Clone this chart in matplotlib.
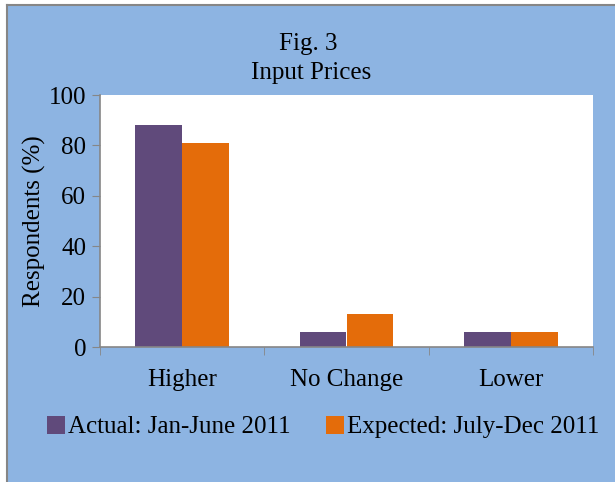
import matplotlib
matplotlib.use("Agg")
import matplotlib.pyplot as plt
import numpy as np
from matplotlib.patches import Rectangle
from matplotlib.lines import Line2D

categories = ["Higher", "No Change", "Lower"]
actual = [88, 6, 6]
expected = [81, 13, 6]
series_names = ["Actual: Jan-June 2011", "Expected: July-Dec 2011"]

plt.rcParams['font.family'] = ['Liberation Serif', 'DejaVu Serif']

bg = "#8DB4E2"
purple = "#604A7B"
orange = "#E46C0A"
grey = "#868686"
fs = 18

fig = plt.figure(figsize=(6.15, 4.82), dpi=100, facecolor="white")

# blue chart area with grey frame on left/top
fig.patches.append(Rectangle((7 / 615, 0), 1, 1 - 5 / 482, transform=fig.transFigure,
                             facecolor=bg, edgecolor="none", zorder=-5))
fig.lines.append(Line2D([7 / 615, 7 / 615], [0, 1 - 5 / 482], transform=fig.transFigure,
                        color=grey, lw=1.5, zorder=-4))
fig.lines.append(Line2D([7 / 615, 1], [1 - 5 / 482, 1 - 5 / 482], transform=fig.transFigure,
                        color=grey, lw=1.5, zorder=-4))

ax = fig.add_axes([100 / 615, 1 - 347 / 482, 493 / 615, 252 / 482])
ax.set_facecolor("white")

x = np.arange(len(categories))
w = 0.286
ax.bar(x - w / 2, actual, w, color=purple, label=series_names[0], zorder=2)
ax.bar(x + w / 2, expected, w, color=orange, label=series_names[1], zorder=2)

ax.set_xlim(-0.5, 2.5)
ax.set_ylim(0, 100)
ax.set_yticks(range(0, 101, 20))
ax.set_xticks(x)
ax.set_xticklabels(categories, fontsize=fs)
ax.set_xticks(np.arange(-0.5, 2.6, 1), minor=True)
ax.tick_params(axis="x", which="major", length=0, pad=16)
ax.tick_params(axis="x", which="minor", length=6, color=grey, direction="out")
ax.tick_params(axis="y", labelsize=fs, length=6, color=grey, direction="out", pad=4)

for s in ["top", "right"]:
    ax.spines[s].set_visible(False)
for s in ["left", "bottom"]:
    ax.spines[s].set_color(grey)
    ax.spines[s].set_linewidth(1.2)

ax.set_ylabel("Respondents (%)", fontsize=fs, labelpad=2)

fig.text(308 / 615, 1 - 44 / 482, "Fig. 3", ha="center", va="center", fontsize=fs)
fig.text(311 / 615, 1 - 73 / 482, "Input Prices", ha="center", va="center", fontsize=fs)

fig.legend(loc="center", bbox_to_anchor=(323 / 615, 1 - 427 / 482), ncol=2, frameon=False,
           fontsize=fs, handlelength=0.75, handleheight=0.75, handletextpad=0.1,
           columnspacing=1.4)

fig.savefig("out.png", dpi=100, facecolor=fig.get_facecolor())
